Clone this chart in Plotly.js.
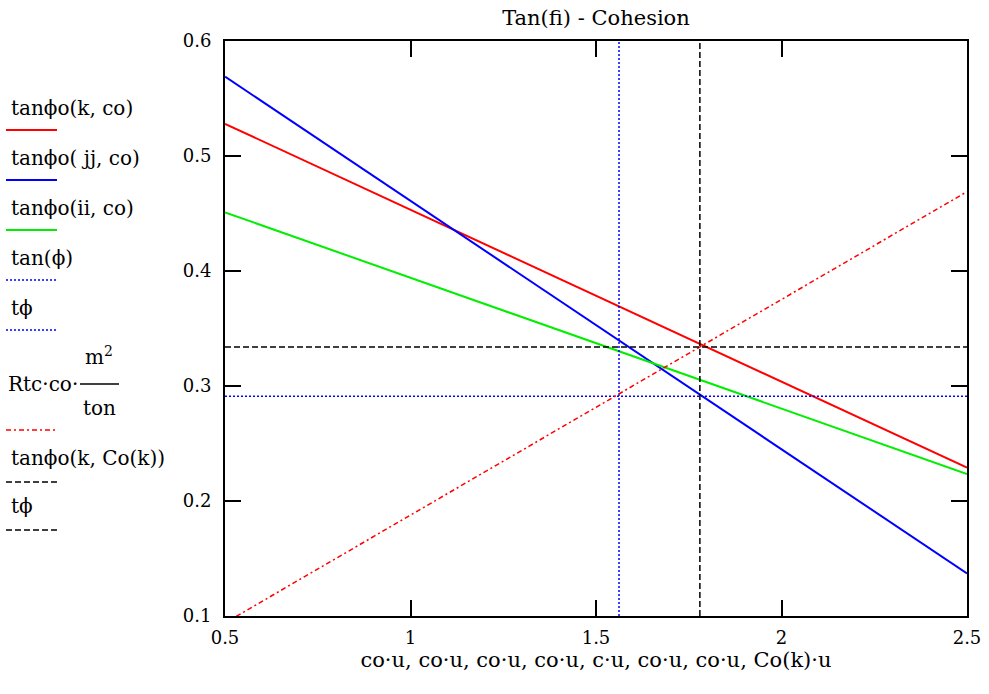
<!DOCTYPE html>
<html>
<head>
<meta charset="utf-8">
<script src="https://cdn.plot.ly/plotly-3.0.1.min.js"></script>
<style>html,body{margin:0;padding:0;background:#fff;}#chart{width:989px;height:694px;}</style>
</head>
<body>
<div id="chart"></div>
<script>
// ---- data ----
const coRange = [0.5, 2.5];             // cohesion axis ends
const tanK   = [0.528, 0.229];          // tanϕo(k, co)
const tanJJ  = [0.569, 0.137];          // tanϕo(jj, co)
const tanII  = [0.451, 0.2235];         // tanϕo(ii, co)
const rtcLine = [0.094, 0.469];         // Rtc·co·m²/ton
const tanPhiVal = 0.291;                // tan(ϕ)
const cAtTanPhi = 1.562;                // c at tan(ϕ)
const tPhiK = 0.334;                    // tanϕo(k, Co(k))
const coK = 1.78;                       // Co(k)
const yRange = [0.1, 0.6];
const xTicks = [0.5, 1, 1.5, 2, 2.5];
const yTicks = [0.1, 0.2, 0.3, 0.4, 0.5, 0.6];
const xTitle = 'co·u, co·u, co·u, co·u, c·u, co·u, co·u, Co(k)·u';

const FONT = '"DejaVu Serif", serif';
const FS_LEG = 20, FS_TICK = 18, FS_TITLE = 21, FS_XT = 21;

const DASH = '6px,3px', DOT = '2px,2px', DASHDOT = '5px,3px,2px,3px';

const traces = [
  {x: coRange, y: tanK, mode: 'lines', line: {color: '#ff0000', width: 2}},
  {x: coRange, y: tanJJ, mode: 'lines', line: {color: '#0000ff', width: 2}},
  {x: coRange, y: tanII, mode: 'lines', line: {color: '#00ee00', width: 2}},
  {x: coRange, y: [tanPhiVal, tanPhiVal], mode: 'lines', line: {color: '#0000ff', width: 1.5, dash: DOT}},
  {x: [cAtTanPhi, cAtTanPhi], y: yRange, mode: 'lines', line: {color: '#0000ff', width: 1.5, dash: DOT}},
  {x: coRange, y: rtcLine, mode: 'lines', line: {color: '#ff0000', width: 1.5, dash: DASHDOT}},
  {x: coRange, y: [tPhiK, tPhiK], mode: 'lines', line: {color: '#000000', width: 1.5, dash: DASH}},
  {x: [coK, coK], y: yRange, mode: 'lines', line: {color: '#000000', width: 1.5, dash: DASH}}
];

const legendItems = [
  {text: 'tanϕo(k, co)', tx: 9, ty: 108, ly: 130, color: '#ff0000', dash: 'solid', w: 2},
  {text: 'tanϕo( jj, co)', tx: 9, ty: 158, ly: 180, color: '#0000ff', dash: 'solid', w: 2},
  {text: 'tanϕo(ii, co)', tx: 9, ty: 208, ly: 230, color: '#00ee00', dash: 'solid', w: 2},
  {text: 'tan(ϕ)', tx: 9, ty: 258, ly: 280, color: '#0000ff', dash: DOT, w: 1.5},
  {text: 'tϕ', tx: 9, ty: 308, ly: 330, color: '#0000ff', dash: DOT, w: 1.5},
  {text: 'Rtc·co·', tx: 6, ty: 384, ly: 430, color: '#ff0000', dash: DASHDOT, w: 1.5},
  {text: 'tanϕo(k, Co(k))', tx: 9, ty: 458, ly: 482, color: '#000000', dash: DASH, w: 1.5},
  {text: 'tϕ', tx: 9, ty: 506, ly: 530, color: '#000000', dash: DASH, w: 1.5}
];
const W = 989, H = 694;
const PL = 225, PW = 742, PB = 616, PH = 575;
const px = v => (v - PL) / PW, py = v => (PB - v) / PH;

const annotations = [];
const shapes = [];
legendItems.forEach(it => {
  annotations.push({xref: 'paper', yref: 'paper', x: px(it.tx), y: py(it.ty), xanchor: 'left', yanchor: 'middle',
    text: it.text, showarrow: false, font: {family: FONT, size: FS_LEG, color: '#000'}});
  shapes.push({type: 'line', xref: 'paper', yref: 'paper', x0: px(6), x1: px(57), y0: py(it.ly), y1: py(it.ly),
    line: {color: it.color, width: it.w, dash: it.dash}});
});
annotations.push({xref: 'paper', yref: 'paper', x: px(99), y: py(356), xanchor: 'center', yanchor: 'middle',
  text: 'm<sup>2</sup>', showarrow: false, font: {family: FONT, size: FS_LEG, color: '#000'}});
annotations.push({xref: 'paper', yref: 'paper', x: px(99), y: py(408), xanchor: 'center', yanchor: 'middle',
  text: 'ton', showarrow: false, font: {family: FONT, size: FS_LEG, color: '#000'}});
shapes.push({type: 'line', xref: 'paper', yref: 'paper', x0: px(80), x1: px(119), y0: py(384), y1: py(384),
  line: {color: '#000', width: 1.5}});

const axisCommon = {
  showgrid: false, zeroline: false, showline: true, mirror: 'ticks', linecolor: '#000', linewidth: 2,
  ticks: 'inside', ticklen: 16, tickwidth: 2, tickcolor: '#000',
  tickfont: {family: FONT, size: FS_TICK, color: '#000'}, tickmode: 'array'
};

const layout = {
  width: W, height: H,
  margin: {l: PL, r: W - PL - PW, t: PB - PH, b: H - PB},
  paper_bgcolor: '#fff', plot_bgcolor: '#fff',
  showlegend: false,
  font: {family: FONT},
  title: {text: 'Tan(fi) - Cohesion', font: {family: FONT, size: FS_TITLE, color: '#000'},
    x: 0.5, xanchor: 'center', xref: 'paper', y: 1 - 18 / H, yanchor: 'middle'},
  xaxis: Object.assign({}, axisCommon, {range: coRange, tickvals: xTicks, ticktext: xTicks.map(String),
    ticklabelstandoff: 4,
    title: {text: '\u00a0\u00a0\u00a0\u00a0\u00a0\u00a0' + xTitle, standoff: 6,
      font: {family: FONT, size: FS_XT, color: '#000'}}}),
  yaxis: Object.assign({}, axisCommon, {range: yRange, tickvals: yTicks, ticktext: yTicks.map(String),
    ticklabelstandoff: 8}),
  annotations: annotations,
  shapes: shapes
};

Plotly.newPlot('chart', traces, layout, {staticPlot: true, displayModeBar: false});
</script>
</body>
</html>
